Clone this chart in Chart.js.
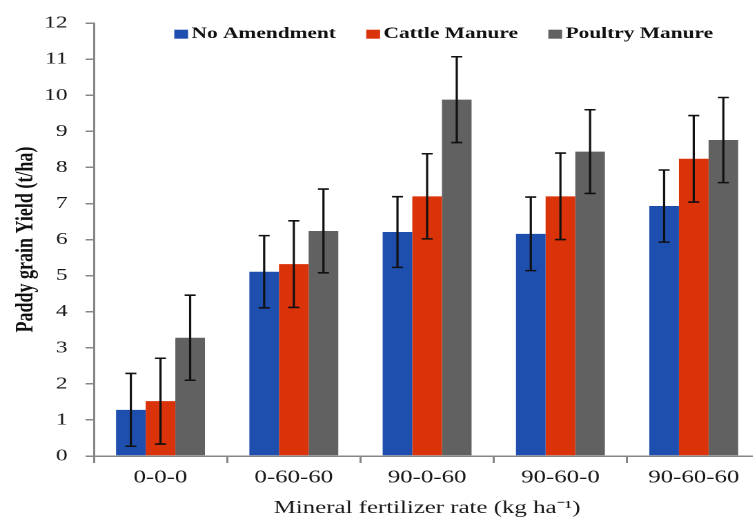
<!DOCTYPE html>
<html>
<head>
<meta charset="utf-8">
<script src="https://cdn.jsdelivr.net/npm/chart.js@4.4.1/dist/chart.umd.min.js"></script>
<style>
  body { margin: 0; overflow: hidden; background: #fff; }
  /* the reference is stretched sideways, so draw narrow and stretch the canvas */
  #wrap { width: 560px; height: 522px; transform: scaleX(1.38); transform-origin: 0 0; }
</style>
</head>
<body>
<div id="wrap"><canvas id="yieldBar" width="560" height="522"></canvas></div>
<script>
// Data
const categories = ["0-0-0", "0-60-60", "90-0-60", "90-60-0", "90-60-60"];
const noAmendment = [1.28, 5.11, 6.21, 6.16, 6.93];
const cattleManure = [1.52, 5.32, 7.2, 7.2, 8.24];
const poultryManure = [3.28, 6.24, 9.88, 8.44, 8.76];
const noAmendmentErr = [1.01, 1.0, 0.98, 1.02, 1.0];
const cattleManureErr = [1.19, 1.2, 1.18, 1.2, 1.2];
const poultryManureErr = [1.18, 1.16, 1.19, 1.16, 1.18];
const yTicks = [0, 1, 2, 3, 4, 5, 6, 7, 8, 9, 10, 11, 12];

const serif = "'Liberation Serif', 'Times New Roman', serif";
Chart.defaults.font.family = serif;
Chart.defaults.color = "#1a1a1a";

// Error bars drawn from the y scale
const errorBars = {
    id: "errorBars",
    afterDatasetsDraw(chart) {
        const ctx = chart.ctx;
        const y = chart.scales.y;
        ctx.save();
        ctx.strokeStyle = "#111";
        ctx.lineWidth = 1.6;
        chart.data.datasets.forEach((ds, i) => {
            const meta = chart.getDatasetMeta(i);
            meta.data.forEach((bar, j) => {
                const v = ds.data[j];
                const e = ds.errors[j];
                const top = y.getPixelForValue(v + e);
                const bottom = y.getPixelForValue(v - e);
                ctx.beginPath();
                ctx.moveTo(bar.x, top);
                ctx.lineTo(bar.x, bottom);
                ctx.moveTo(bar.x - 4, top);
                ctx.lineTo(bar.x + 4, top);
                ctx.moveTo(bar.x - 4, bottom);
                ctx.lineTo(bar.x + 4, bottom);
                ctx.stroke();
            });
        });
        ctx.restore();
    }
};

// Legend sits inside the plot, one row near the top
const innerLegend = {
    id: "innerLegend",
    afterDraw(chart) {
        const ctx = chart.ctx;
        const area = chart.chartArea;
        const box = 10, gap = 2.5, spacing = 22;
        ctx.save();
        ctx.font = "bold 15.5px " + serif;
        ctx.textBaseline = "middle";
        const items = chart.data.datasets.map(ds => ({
            label: ds.label, color: ds.backgroundColor, w: ctx.measureText(ds.label).width
        }));
        const total = items.reduce((s, it) => s + box + gap + it.w, 0) + spacing * (items.length - 1);
        let x = (area.left + area.right) / 2 + 12 - total / 2;
        const yMid = area.top + 11;
        items.forEach(it => {
            ctx.fillStyle = it.color;
            ctx.fillRect(x, yMid - 4.5, box, 9);
            x += box + gap;
            ctx.fillStyle = "#111";
            ctx.fillText(it.label, x, yMid);
            x += it.w + spacing;
        });
        ctx.restore();
    }
};

const barData = {
    labels: categories,
    datasets: [
        { label: "No Amendment", data: noAmendment, errors: noAmendmentErr, backgroundColor: "#1f4fae" },
        { label: "Cattle Manure", data: cattleManure, errors: cattleManureErr, backgroundColor: "#db3309" },
        { label: "Poultry Manure", data: poultryManure, errors: poultryManureErr, backgroundColor: "#616161" }
    ]
};

new Chart(document.getElementById("yieldBar").getContext("2d"), {
    type: "bar",
    data: barData,
    plugins: [errorBars, innerLegend],
    options: {
        responsive: false,
        maintainAspectRatio: false,
        devicePixelRatio: 2,
        animation: false,
        categoryPercentage: 0.667,
        barPercentage: 1,
        layout: { padding: { top: 18, right: 9, left: 0, bottom: 0 } },
        plugins: {
            tooltip: { enabled: false },
            legend: { display: false }
        },
        scales: {
            x: {
                afterFit: scale => { scale.height = 66; },
                grid: { display: true, drawOnChartArea: false, offset: true, tickLength: 7, color: "#868686", lineWidth: 1.5 },
                border: { color: "#868686", width: 1.5 },
                ticks: { padding: 4, font: { size: 18 }, color: "#1a1a1a" },
                title: { display: true, text: "Mineral fertilizer rate (kg ha⁻¹)", font: { size: 18 }, color: "#1a1a1a", padding: { top: 0, bottom: 3 } }
            },
            y: {
                min: 0,
                max: 12,
                afterFit: scale => { scale.width = 68; },
                afterBuildTicks: scale => { scale.ticks = yTicks.map(v => ({ value: v })); },
                grid: { display: true, drawOnChartArea: false, tickLength: 6, color: "#868686", lineWidth: 1.5 },
                border: { color: "#868686", width: 1.5 },
                ticks: { padding: 13, font: { size: 17 }, color: "#1a1a1a" },
                title: { display: true, text: "Paddy grain Yield (t/ha)", font: { size: 18, weight: "bold" }, color: "#111", padding: { top: 8, bottom: 0 } }
            }
        }
    }
});
</script>
</body>
</html>
